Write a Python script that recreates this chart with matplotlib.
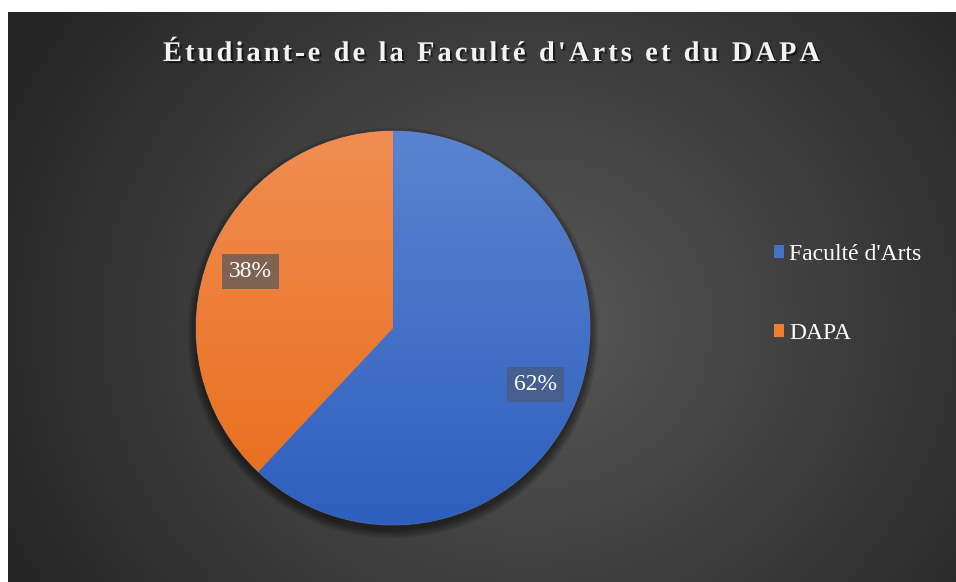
import numpy as np
import matplotlib
matplotlib.use("Agg")
import matplotlib.pyplot as plt
import matplotlib.patheffects as pe
from matplotlib.colors import LinearSegmentedColormap
from matplotlib.patches import Circle

# data
labels = ["Faculté d'Arts", "DAPA"]
values = [62, 38]
colors = ["#4472c4", "#ed7d31"]
grad_top = ["#5b84d0", "#f18d52"]
grad_bottom = ["#2e5fbf", "#e86c18"]
title = "Étudiant-e de la Faculté d'Arts et du DAPA"

W, H = 956, 582
fig = plt.figure(figsize=(W / 100, H / 100), dpi=100, facecolor="white")

# dark radial background
bg = fig.add_axes([8 / W, 0, 1 - 8 / W, 1 - 12 / H])
yy, xx = np.mgrid[0:570, 0:948]
d = np.sqrt(((xx - 520) / 620) ** 2 + ((yy - 310) / 560) ** 2)
d = np.clip(d / 0.95, 0, 1)
c0, c1 = np.array([0x58, 0x58, 0x58]) / 255, np.array([0x25, 0x25, 0x25]) / 255
img = c0[None, None, :] * (1 - d[..., None]) + c1[None, None, :] * d[..., None]
bg.imshow(img, aspect="auto", extent=[0, 1, 0, 1])
bg.set_axis_off()

# pie
cx, cy, r = 393, 328, 197
ax = fig.add_axes([(cx - r) / W, (H - cy - r) / H, 2 * r / W, 2 * r / H])

# soft drop shadow under the pie
for k in range(8):
    ax.add_patch(Circle((0, -0.025), 1.0 + 0.006 * k, facecolor="black",
                        alpha=0.07, edgecolor="none", zorder=0.5, clip_on=False))

wedges, texts, autotexts = ax.pie(
    values, colors=colors, startangle=90, counterclock=False,
    autopct="%1.0f%%", pctdistance=0.78, radius=1,
    wedgeprops=dict(edgecolor=(1, 1, 1, 0.2), linewidth=0.8),
    textprops=dict(family="Liberation Serif", fontsize=17, color="white"))
ax.set_xlim(-1, 1)
ax.set_ylim(-1, 1)
ax.set_aspect("auto")

# vertical gradient inside each wedge
for w, top, bot in zip(wedges, grad_top, grad_bottom):
    cmap = LinearSegmentedColormap.from_list("g", [bot, top])
    grad = np.linspace(0, 1, 256)[:, None] * np.ones((1, 2))
    im = ax.imshow(grad, cmap=cmap, origin="lower", extent=[-1, 1, -1, 1],
                   aspect="auto", zorder=w.get_zorder() + 0.1)
    im.set_clip_path(w)

for t, bgc in zip(autotexts, ["#45608f", "#7f6252"]):
    t.set_zorder(10)
    t.set_bbox(dict(facecolor=bgc, edgecolor="none", boxstyle="square,pad=0.3"))

# legend
leg = ax.legend(wedges, labels, loc="upper left", bbox_to_anchor=(762 / W, (H - 232) / H),
                bbox_transform=fig.transFigure, frameon=False,
                prop=dict(family="Liberation Serif", size=17),
                handlelength=0.45, handleheight=0.45, handletextpad=0.2,
                labelspacing=2.45, borderpad=0)
for t in leg.get_texts():
    t.set_color("white")
for h, c in zip(leg.legend_handles, colors):
    h.set_edgecolor("none")
    h.set_facecolor(c)

# letter-spaced title
fig.canvas.draw()
rend = fig.canvas.get_renderer()
fp = dict(family="Liberation Serif", weight="bold", size=20.5)


def width(s):
    t = fig.text(0, 0, s + "|", **fp)
    w = t.get_window_extent(rend).width
    t.remove()
    return w


bar_w = width("")
pos = [width(title[:i]) - bar_w for i in range(len(title) + 1)]
natural = width(title) - bar_w
target = 655
spacing = (target - natural) / (len(title) - 1)
x0 = 163
shadow = [pe.withSimplePatchShadow(offset=(1.5, -1.5), shadow_rgbFace="black", alpha=0.55)]
for i, ch in enumerate(title):
    if ch == " ":
        continue
    fig.text((x0 + pos[i] + i * spacing) / W, (H - 61) / H, ch, color="#f2f2f2",
             ha="left", va="baseline", path_effects=shadow, **fp)

fig.savefig("out.png", dpi=100, facecolor="white")
